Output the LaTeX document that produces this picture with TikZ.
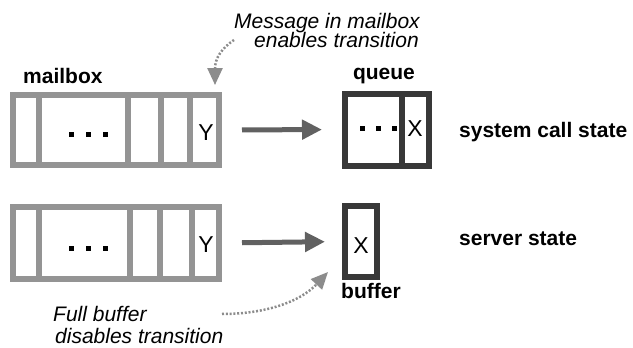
\documentclass[tikz,border=0pt]{standalone}
\usepackage{fontspec}
\setmainfont{Liberation Sans}
\usetikzlibrary{arrows.meta}
\begin{document}
\begin{tikzpicture}[x=1pt,y=-1pt,
  mbox/.style={draw=black!42, line width=6pt, inner sep=0pt},
  dbox/.style={draw=black!78, line width=6pt, inner sep=0pt},
  mwall/.style={draw=black!42, line width=6pt},
  dwall/.style={draw=black!78, line width=6pt},
  dotsq/.style={fill=black, minimum size=5pt, inner sep=0pt},
  lbl/.style={font=\fontsize{21}{21}\selectfont\bfseries, inner sep=0pt},
  note/.style={font=\fontsize{21}{21}\selectfont\itshape, inner sep=0pt},
  letter/.style={font=\fontsize{23}{23}\selectfont, inner sep=0pt},
  bigarrow/.style={draw=black!62, line width=5pt, -{Triangle[length=20pt,width=19pt]}},
  hintarrow/.style={draw=black!45, line width=2.5pt, dash pattern=on 2pt off 1.8pt, -{Triangle[length=17pt,width=15pt]}}
]
\useasboundingbox (0,0) rectangle (633,348);

% top row: mailbox
\node[mbox, minimum width=206pt, minimum height=70pt] (mb1) at (116,130) {};
\foreach \wx in {39,128,161,190} \draw[mwall] (\wx,95) -- (\wx,165);
\node[dotsq] (mb1d1) at (71,134) {};
\node[dotsq] (mb1d2) at (88,134) {};
\node[dotsq] (mb1d3) at (105,134) {};
\node[letter] (mb1y) at (206,133) {Y};
\node[lbl, anchor=base west] (mblabel) at (23,83) {mailbox};

% top row: queue
\node[dbox, minimum width=84pt, minimum height=72pt] (q) at (387,129.5) {};
\draw[dwall] (402,93) -- (402,166);
\node[dotsq] (qd1) at (362,128) {};
\node[dotsq] (qd2) at (378,128) {};
\node[dotsq] (qd3) at (394,128) {};
\node[letter] (qx) at (415,129) {X};
\node[lbl, anchor=base] (qlabel) at (384,79) {queue};
\node[lbl, anchor=base west] (sys) at (459,137) {system call state};

% bottom row: mailbox
\node[mbox, minimum width=206pt, minimum height=72pt] (mb2) at (116,243) {};
\foreach \wx in {39,130,160,192} \draw[mwall] (\wx,207) -- (\wx,279);
\node[dotsq] (mb2d1) at (71,248) {};
\node[dotsq] (mb2d2) at (88,248) {};
\node[dotsq] (mb2d3) at (105,248) {};
\node[letter] (mb2y) at (206,245) {Y};

% bottom row: buffer
\node[dbox, minimum width=32pt, minimum height=71pt] (buf) at (361,241.5) {};
\node[letter] (bx) at (361,246) {X};
\node[lbl, anchor=base west] (buflabel) at (341,298) {buffer};
\node[lbl, anchor=base west] (srv) at (459,245) {server state};

% transitions
\draw[bigarrow, shorten <=20pt, shorten >=20pt] (mb1.east) -- (q.west);
\draw[bigarrow, shorten <=20pt, shorten >=17pt] (mb2.east) -- (buf.west);

% notes
\node[note, anchor=base east] (msg1) at (420,28) {Message in mailbox};
\node[note, anchor=base east] (msg2) at (419,47) {enables transition};
\node[note, anchor=base west] (full1) at (53,321) {Full buffer};
\node[note, anchor=base west] (full2) at (55,343) {disables transition};

\coordinate (h1s) at (234,40);
\coordinate (h1e) at (215,85);
\draw[hintarrow] (h1s) .. controls (222,48) and (215,58) .. (h1e);
\coordinate (h2s) at (222,314);
\coordinate (h2e) at (328,272);
\draw[hintarrow] (h2s) .. controls (265,314) and (300,302) .. (h2e);
\end{tikzpicture}
\end{document}
